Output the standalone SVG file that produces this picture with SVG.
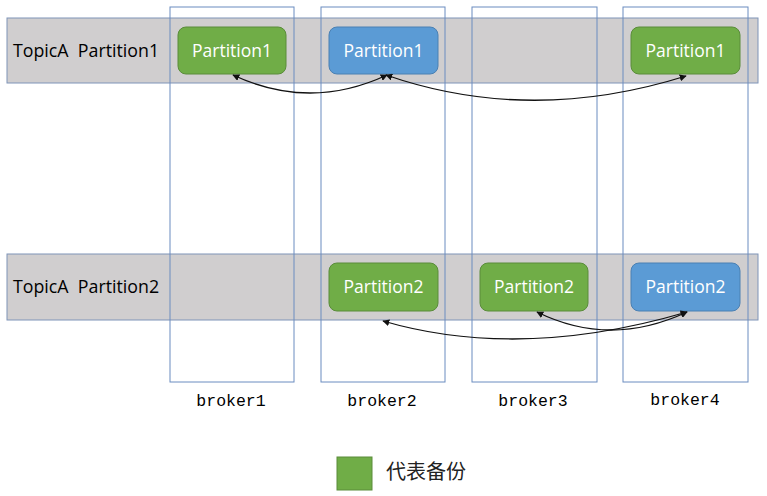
<svg xmlns="http://www.w3.org/2000/svg" width="767" height="496" viewBox="0 0 767 496">
<style>
.band{fill:#d0cecf;stroke:#7f94b8;stroke-width:1}
.col{fill:none;stroke:#6a8cc0;stroke-width:1}
.g{fill:#70ad47;stroke:#5a8c3a;stroke-width:1}
.b{fill:#5b9bd5;stroke:#4a80b3;stroke-width:1}
.bt{font-family:"Open Sans","Noto Sans",sans-serif;font-size:17.5px;fill:#ffffff;text-anchor:middle}
.lt{font-family:"Open Sans","Noto Sans",sans-serif;font-size:17.8px;fill:#000000;white-space:pre}
.br{font-family:"Liberation Mono","DejaVu Sans Mono",monospace;font-size:16.5px;fill:#000000;text-anchor:middle}
.lg{font-family:"Noto Sans CJK SC",sans-serif;font-size:20px;fill:#222222}
.c{fill:none;stroke:#111111;stroke-width:1.3}
</style>
<defs>
<marker id="ah" viewBox="0 0 10 10" refX="9" refY="5" markerWidth="7" markerHeight="7" orient="auto-start-reverse" markerUnits="userSpaceOnUse">
<path d="M0,0 L10,5 L0,10 z" fill="#111111"/>
</marker>
</defs>
<g id="band1"><rect class="band" x="7" y="18" width="751" height="65"/><text class="lt" x="13" y="57" xml:space="preserve">TopicA  Partition1</text></g>
<g id="band2"><rect class="band" x="7" y="254" width="751" height="66"/><text class="lt" x="13" y="293" xml:space="preserve">TopicA  Partition2</text></g>
<g id="broker1"><rect class="col" x="170" y="7" width="124" height="375"/><text class="br" x="231" y="406">broker1</text></g>
<g id="broker2"><rect class="col" x="321" y="7" width="124" height="375"/><text class="br" x="382" y="406">broker2</text></g>
<g id="broker3"><rect class="col" x="472" y="7" width="125" height="375"/><text class="br" x="533" y="406">broker3</text></g>
<g id="broker4"><rect class="col" x="623" y="7" width="125" height="375"/><text class="br" x="685" y="405">broker4</text></g>
<g id="p1-b1"><rect class="g" x="178" y="27" width="108" height="47" rx="8"/><text class="bt" x="232" y="57">Partition1</text></g>
<g id="p1-b2"><rect class="b" x="329" y="27" width="109" height="47" rx="8"/><text class="bt" x="383.5" y="57">Partition1</text></g>
<g id="p1-b4"><rect class="g" x="631" y="27" width="109" height="47" rx="8"/><text class="bt" x="685.5" y="57">Partition1</text></g>
<g id="p2-b2"><rect class="g" x="329" y="263" width="109" height="48" rx="8"/><text class="bt" x="383.5" y="293">Partition2</text></g>
<g id="p2-b3"><rect class="g" x="480" y="263" width="108" height="48" rx="8"/><text class="bt" x="534" y="293">Partition2</text></g>
<g id="p2-b4"><rect class="b" x="631" y="263" width="109" height="48" rx="8"/><text class="bt" x="685.5" y="293">Partition2</text></g>
<g id="connectors">
<path class="c" d="M233,75 Q310,111 387,75" marker-start="url(#ah)" marker-end="url(#ah)"/>
<path class="c" d="M386,75 Q530,125 686,76" marker-start="url(#ah)" marker-end="url(#ah)"/>
<path class="c" d="M383,321 Q520,361 687,312" marker-start="url(#ah)" marker-end="url(#ah)"/>
<path class="c" d="M537,312 Q610,348 687,312" marker-start="url(#ah)" marker-end="url(#ah)"/>
</g>
<g id="legend"><rect class="g" x="337" y="457" width="35" height="33"/><text class="lg" x="386" y="479">代表备份</text></g>
</svg>
